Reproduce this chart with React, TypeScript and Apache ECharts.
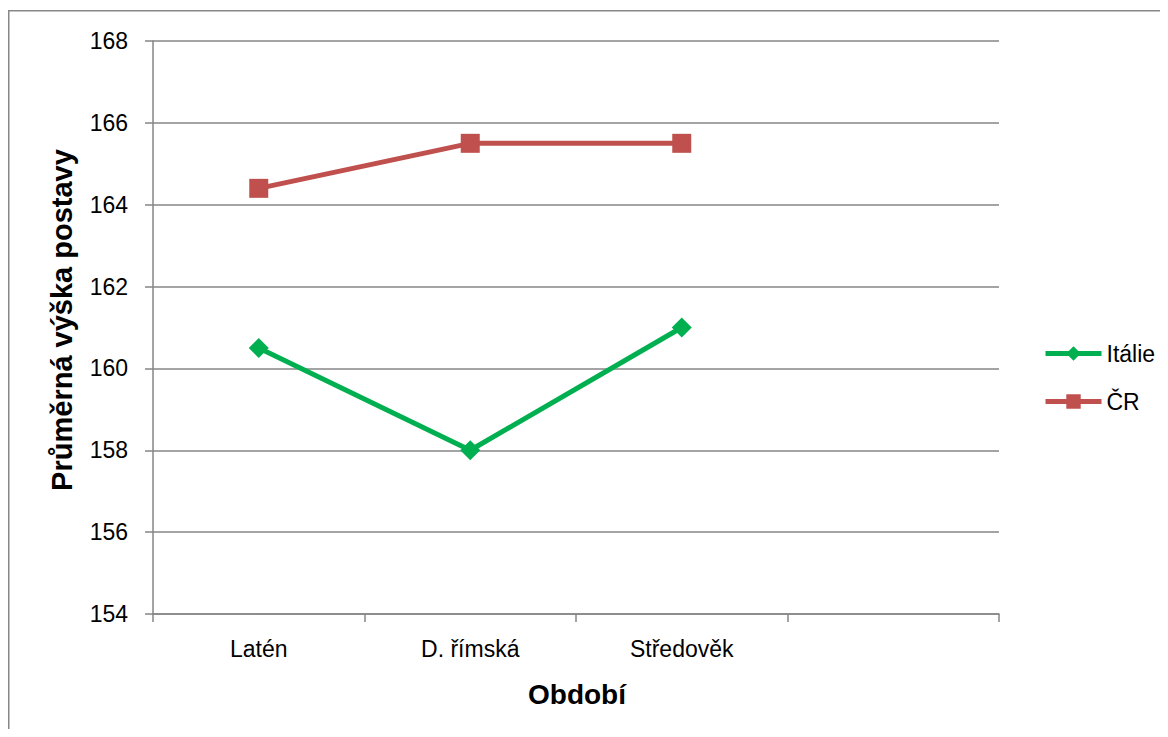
import React, { useEffect, useRef } from "react";
import * as echarts from "echarts";

const categories = ["Latén", "D. římská", "Středověk", ""];
const italie = [160.5, 158, 161, null];
const cr = [164.4, 165.5, 165.5, null];
const yMin = 154;
const yMax = 168;
const yInterval = 2;

const FONT = "'Liberation Sans', Arial, sans-serif";
const GRID_COLOR = "#868686";

export default function App() {
  const ref = useRef<HTMLDivElement>(null);
  useEffect(() => {
    if (!ref.current) return;
    const chart = echarts.init(ref.current, undefined, { renderer: "svg" });
    chart.setOption({
      animation: false,
      backgroundColor: "#ffffff",
      textStyle: { fontFamily: FONT },
      grid: { left: 145, top: 33, width: 846, height: 573, containLabel: false },
      graphic: [
        {
          type: "polyline",
          shape: { points: [[0.75, 3000], [0.75, 2.75], [3000, 2.75]] },
          style: { fill: "none", stroke: "#888888", lineWidth: 1.5 },
          silent: true,
          z: -1,
        },
        {
          type: "text",
          x: 54,
          y: 312,
          rotation: Math.PI / 2,
          style: {
            text: "Průměrná výška postavy",
            fontFamily: FONT,
            fontWeight: "bold",
            fontSize: 29,
            fill: "#000000",
            align: "center",
            verticalAlign: "middle",
          },
        },
        {
          type: "text",
          x: 569,
          y: 686,
          style: {
            text: "Období",
            fontFamily: FONT,
            fontWeight: "bold",
            fontSize: 28,
            fill: "#000000",
            align: "center",
            verticalAlign: "middle",
          },
        },
      ],
      legend: {
        orient: "vertical",
        left: 1030,
        top: 329,
        itemWidth: 56,
        itemHeight: 18,
        itemGap: 25,
        lineStyle: { width: 5 },
        textStyle: { fontFamily: FONT, fontSize: 23, color: "#000000" },
        data: ["Itálie", "ČR"],
      },
      xAxis: {
        type: "category",
        data: categories,
        boundaryGap: true,
        axisLine: { lineStyle: { color: GRID_COLOR, width: 1.5 } },
        axisTick: { show: true, interval: 0, length: 8, lineStyle: { color: GRID_COLOR, width: 1.5 } },
        axisLabel: { interval: 0, margin: 23, fontSize: 23, color: "#000000", fontFamily: FONT },
        splitLine: { show: false },
      },
      yAxis: {
        type: "value",
        min: yMin,
        max: yMax,
        interval: yInterval,
        axisLine: { show: true, lineStyle: { color: GRID_COLOR, width: 1.5 } },
        axisTick: { show: true, length: 8, lineStyle: { color: GRID_COLOR, width: 1.5 } },
        axisLabel: { margin: 25, fontSize: 23, color: "#000000", fontFamily: FONT },
        splitLine: { show: true, lineStyle: { color: GRID_COLOR, width: 1.5 } },
      },
      series: [
        {
          name: "Itálie",
          type: "line",
          data: italie,
          symbol: "diamond",
          symbolSize: 20,
          color: "#00B050",
          lineStyle: { width: 5, color: "#00B050" },
          itemStyle: { color: "#00B050" },
        },
        {
          name: "ČR",
          type: "line",
          data: cr,
          symbol: "rect",
          symbolSize: 19,
          color: "#C0504D",
          lineStyle: { width: 5, color: "#C0504D" },
          itemStyle: { color: "#C0504D" },
        },
      ],
    });
    return () => chart.dispose();
  }, []);
  return <div ref={ref} style={{ width: 1152, height: 721 }} />;
}
